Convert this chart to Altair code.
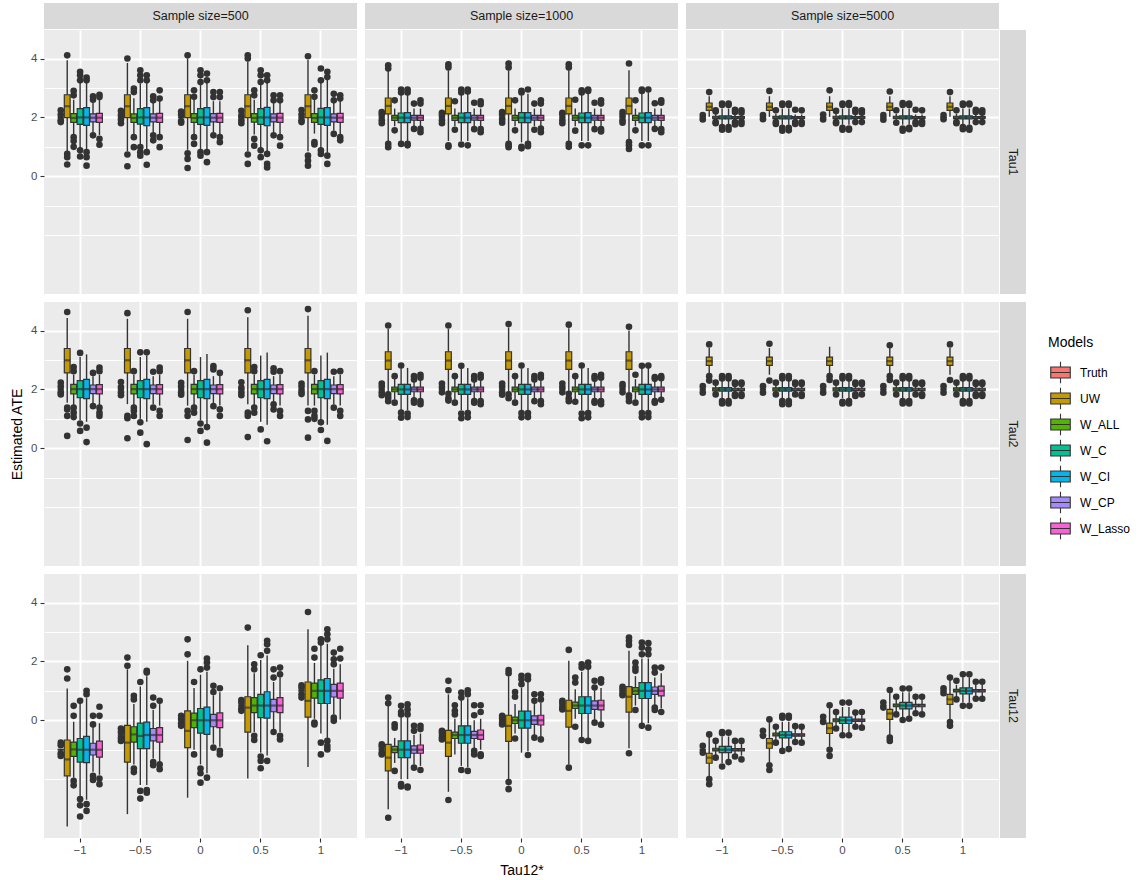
import altair as alt
import pandas as pd

FONT = "Liberation Sans"

MODELS = ["Truth", "UW", "W_ALL", "W_C", "W_CI", "W_CP", "W_Lasso"]
MODEL_COLORS = ["#F8766D", "#C49A00", "#53B400", "#00C094", "#00B6EB", "#A58AFF", "#FB61D7"]
TAU12_LEVELS = ["−1", "−0.5", "0", "0.5", "1"]
SAMPLE_SIZES = [500, 1000, 5000]
ESTIMANDS = ["Tau1", "Tau2", "Tau12"]

# Box statistics per model and Tau12* level: (lower whisker, Q1, median, Q3, upper whisker)
# Outliers per model and Tau12* level.

# ---- Tau1 ----
BOX_TAU1_N500 = {
    "Truth": [(2.0, 2.0, 2.0, 2.0, 2.0)] * 5,
    "UW": [(0.85, 1.99, 2.38, 2.77, 3.94), (0.85, 1.99, 2.38, 2.77, 3.85), (0.9, 1.99, 2.38, 2.77, 4.0),
           (0.85, 1.99, 2.38, 2.77, 3.9), (0.85, 1.99, 2.38, 2.77, 3.95)],
    "W_ALL": [(1.39, 1.83, 1.98, 2.13, 2.6), (1.4, 1.83, 1.98, 2.12, 2.65), (1.42, 1.83, 1.98, 2.13, 2.62),
              (1.42, 1.84, 1.98, 2.13, 2.6), (1.45, 1.83, 1.98, 2.13, 2.6)],
    "W_C": [(0.95, 1.76, 2.0, 2.3, 3.2), (1.05, 1.77, 2.0, 2.3, 3.15), (0.9, 1.76, 2.0, 2.3, 3.1),
            (0.95, 1.76, 2.0, 2.3, 3.1), (0.95, 1.76, 2.0, 2.31, 3.2)],
    "W_CI": [(0.9, 1.73, 2.0, 2.33, 3.2), (0.9, 1.72, 2.0, 2.33, 3.2), (0.9, 1.73, 2.0, 2.33, 3.2),
             (0.85, 1.72, 2.0, 2.34, 3.2), (0.8, 1.73, 2.0, 2.33, 3.3)],
    "W_CP": [(1.5, 1.85, 1.99, 2.12, 2.5), (1.5, 1.85, 1.99, 2.12, 2.5), (1.5, 1.85, 1.99, 2.13, 2.55),
             (1.5, 1.85, 1.99, 2.12, 2.5), (1.55, 1.85, 1.99, 2.12, 2.5)],
    "W_Lasso": [(1.4, 1.83, 1.99, 2.14, 2.6), (1.4, 1.83, 1.99, 2.14, 2.55), (1.4, 1.83, 1.99, 2.14, 2.55),
                (1.4, 1.83, 1.99, 2.14, 2.5), (1.4, 1.83, 1.99, 2.14, 2.55)],
}
OUT_TAU1_N500 = {
    "Truth": [[2.24, 2.1, 1.9, 1.84], [2.22, 2.08, 1.92, 1.8], [2.2, 2.1, 1.88, 1.82],
              [2.22, 2.06, 1.9, 1.8], [2.25, 2.1, 1.9, 1.84]],
    "UW": [[4.11, 0.76, 0.65, 0.40], [4.0, 0.74, 0.34], [4.11, 0.78, 0.59, 0.28],
           [4.11, 4.0, 0.74, 0.42], [4.08, 0.7, 0.53, 0.36]],
    "W_ALL": [[2.9, 2.75, 1.33, 1.2, 1.0], [2.98, 2.86, 1.33, 0.99], [2.92, 2.7, 1.33, 1.1],
              [2.92, 2.75, 1.27, 1.04], [2.92, 2.7, 1.16, 1.08]],
    "W_C": [[3.55, 3.43, 3.26, 0.88, 0.67], [3.6, 3.43, 3.26, 0.99, 0.82, 0.7], [3.6, 3.43, 3.2, 0.82, 0.7],
            [3.6, 3.43, 3.2, 0.88, 0.65], [3.66, 3.26, 0.88, 0.76]],
    "W_CI": [[3.35, 3.26, 0.82, 0.65, 0.36], [3.43, 3.26, 0.82, 0.39], [3.49, 3.26, 0.82, 0.48],
             [3.43, 3.26, 0.76, 0.42, 0.3], [3.55, 3.37, 0.7, 0.42]],
    "W_CP": [[2.72, 2.6, 1.39], [2.72, 2.58, 1.39, 1.22], [2.86, 2.69, 1.39],
             [2.75, 2.58, 1.39], [2.8, 2.58, 1.44]],
    "W_Lasso": [[2.77, 2.69, 1.27, 1.07], [2.92, 2.64, 1.33, 0.99], [2.86, 2.69, 1.33, 1.16],
                [2.75, 2.58, 1.33, 1.04], [2.75, 2.64, 1.33, 1.22]],
}

BOX_TAU1_N1000 = {
    "Truth": [(2.0, 2.0, 2.0, 2.0, 2.0)] * 5,
    "UW": [(1.2, 2.12, 2.39, 2.66, 3.6), (1.2, 2.12, 2.39, 2.66, 3.6), (1.2, 2.12, 2.39, 2.66, 3.6),
           (1.2, 2.12, 2.39, 2.66, 3.6), (1.22, 2.12, 2.39, 2.66, 3.6)],
    "W_ALL": [(1.7, 1.9, 1.99, 2.07, 2.3)] * 5,
    "W_C": [(1.2, 1.82, 1.99, 2.15, 2.8), (1.2, 1.82, 1.99, 2.15, 2.8), (1.15, 1.82, 1.99, 2.16, 2.75),
            (1.2, 1.82, 1.99, 2.15, 2.8), (1.2, 1.82, 1.99, 2.15, 2.8)],
    "W_CI": [(1.2, 1.82, 1.99, 2.16, 2.8), (1.2, 1.82, 1.99, 2.16, 2.8), (1.2, 1.82, 1.99, 2.16, 2.8),
             (1.2, 1.82, 1.99, 2.16, 2.8), (1.2, 1.82, 1.99, 2.16, 2.85)],
    "W_CP": [(1.7, 1.91, 1.99, 2.07, 2.3)] * 5,
    "W_Lasso": [(1.7, 1.9, 1.99, 2.07, 2.3)] * 5,
}
OUT_TAU1_N1000 = {
    "Truth": [[2.18, 2.1, 1.9, 1.8], [2.16, 2.08, 1.9, 1.8], [2.18, 2.1, 1.92, 1.82],
              [2.16, 2.1, 1.9, 1.8], [2.18, 2.08, 1.9, 1.82]],
    "UW": [[3.77, 3.66, 1.1, 0.99], [3.8, 3.7, 1.05, 1.0], [3.83, 3.7, 1.1, 1.05, 0.99],
           [3.8, 3.7, 1.1, 1.0], [3.83, 1.16, 1.05, 0.93]],
    "W_ALL": [[2.58, 1.56], [2.55, 1.58], [2.58, 1.56], [2.6, 1.55], [2.58, 1.56]],
    "W_C": [[2.95, 2.85, 1.1], [2.95, 2.85, 1.08], [2.9, 2.85, 1.0, 0.95], [2.92, 2.85, 1.05], [2.95, 2.9, 1.05]],
    "W_CI": [[2.95, 2.85, 1.1, 1.05], [2.95, 2.88, 1.05], [2.95, 1.1, 1.02], [2.95, 2.9, 1.05], [2.95, 1.05]],
    "W_CP": [[2.47, 1.61], [2.5, 1.6], [2.47, 1.58], [2.5, 1.6], [2.48, 1.61]],
    "W_Lasso": [[2.58, 2.47, 1.61, 1.5], [2.55, 2.45, 1.6, 1.5], [2.58, 2.47, 1.62, 1.5],
                [2.58, 2.47, 1.6, 1.52], [2.58, 2.5, 1.6, 1.5]],
}

BOX_TAU1_N5000 = {
    "Truth": [(2.0, 2.0, 2.0, 2.0, 2.0)] * 5,
    "UW": [(2.02, 2.24, 2.36, 2.49, 2.72)] * 5,
    "W_ALL": [(1.9, 1.96, 2.0, 2.04, 2.12)] * 5,
    "W_C": [(1.75, 1.95, 2.0, 2.05, 2.3)] * 5,
    "W_CI": [(1.75, 1.95, 2.0, 2.05, 2.3)] * 5,
    "W_CP": [(1.9, 1.97, 2.0, 2.03, 2.1)] * 5,
    "W_Lasso": [(1.9, 1.97, 2.0, 2.03, 2.1)] * 5,
}
OUT_TAU1_N5000 = {
    "Truth": [[2.08, 1.93], [2.08, 1.94], [2.1, 1.93], [2.08, 1.92], [2.08, 1.94]],
    "UW": [[2.86], [2.9], [2.92], [2.88], [2.86]],
    "W_ALL": [[2.24, 2.2, 1.84, 1.8], [2.24, 1.84, 1.78], [2.22, 1.84, 1.8], [2.24, 1.82], [2.24, 1.84, 1.8]],
    "W_C": [[2.47, 2.42, 1.67, 1.58], [2.47, 2.42, 1.65, 1.55], [2.47, 2.42, 1.65, 1.58],
            [2.49, 2.42, 1.62, 1.55], [2.47, 2.42, 1.67, 1.6]],
    "W_CI": [[2.47, 2.42, 1.67, 1.58], [2.47, 2.42, 1.65, 1.56], [2.49, 2.42, 1.62, 1.58],
             [2.47, 2.42, 1.65, 1.6], [2.47, 2.44, 1.65, 1.58]],
    "W_CP": [[2.26, 2.18, 1.84, 1.76], [2.26, 1.84, 1.78], [2.26, 2.18, 1.84], [2.26, 1.84, 1.78], [2.26, 2.18, 1.84]],
    "W_Lasso": [[2.24, 2.16, 1.86, 1.78], [2.24, 1.84, 1.78], [2.24, 2.16, 1.84], [2.24, 1.86, 1.78], [2.24, 2.16, 1.84]],
}

# ---- Tau2 ----
BOX_TAU2_N500 = {
    "Truth": [(2.0, 2.0, 2.0, 2.0, 2.0)] * 5,
    "UW": [(1.55, 2.56, 2.99, 3.39, 4.43), (1.5, 2.56, 2.99, 3.39, 4.4), (1.45, 2.56, 2.99, 3.39, 4.4),
           (1.5, 2.56, 2.99, 3.39, 4.45), (1.45, 2.56, 2.99, 3.39, 4.5)],
    "W_ALL": [(1.45, 1.85, 2.01, 2.17, 2.5)] * 5,
    "W_C": [(0.95, 1.72, 2.01, 2.3, 3.1), (1.0, 1.72, 2.01, 2.3, 3.1), (0.95, 1.72, 2.01, 2.3, 3.1),
            (0.9, 1.72, 2.01, 2.3, 3.15), (0.95, 1.72, 2.01, 2.3, 3.15)],
    "W_CI": [(0.9, 1.69, 2.01, 2.34, 3.19), (0.9, 1.69, 2.01, 2.34, 3.15), (0.8, 1.69, 2.01, 2.34, 3.2),
             (0.8, 1.69, 2.01, 2.34, 3.25), (0.8, 1.69, 2.01, 2.34, 3.25)],
    "W_CP": [(1.5, 1.86, 2.01, 2.15, 2.45)] * 5,
    "W_Lasso": [(1.45, 1.85, 2.01, 2.16, 2.5)] * 5,
}
OUT_TAU2_N500 = {
    "Truth": [[2.23, 2.1, 1.9, 1.83], [2.25, 2.08, 1.9, 1.8], [2.22, 2.1, 1.9, 1.82],
              [2.24, 2.06, 1.9, 1.8], [2.2, 2.1, 1.92, 1.84]],
    "UW": [[4.63, 1.38, 1.32, 1.1, 0.42], [4.59, 1.1, 1.02, 0.34], [4.63, 1.27, 1.1, 0.28],
           [4.69, 1.21, 1.1, 0.38], [4.73, 1.27, 0.98, 0.36]],
    "W_ALL": [[2.76, 2.62, 1.38, 1.21, 1.06], [2.62, 1.38, 1.27, 1.1], [2.62, 1.38, 1.21],
              [2.76, 2.62, 1.38, 1.21], [2.62, 1.27, 1.1, 1.0]],
    "W_C": [[3.24, 0.84, 0.59], [3.26, 0.88, 0.53], [0.84, 0.59], [0.64], [0.88, 0.62]],
    "W_CI": [[0.7, 0.21], [3.26, 0.14], [0.72, 0.19], [0.24], [0.25]],
    "W_CP": [[2.56, 1.43], [2.6, 1.38], [2.79, 2.68, 1.43], [2.72, 2.6, 1.49, 1.32], [2.6, 1.38]],
    "W_Lasso": [[2.74, 2.62, 1.38, 1.21, 1.1], [2.74, 2.62, 1.27, 1.1], [2.56, 1.32, 1.1],
                [2.62, 1.27, 1.1], [2.62, 1.27, 1.1]],
}

BOX_TAU2_N1000 = {
    "Truth": [(2.0, 2.0, 2.0, 2.0, 2.0)] * 5,
    "UW": [(1.9, 2.68, 2.98, 3.28, 4.05), (1.9, 2.68, 2.98, 3.28, 4.05), (1.9, 2.68, 2.98, 3.28, 4.1),
           (1.9, 2.68, 2.98, 3.28, 4.08), (1.9, 2.68, 2.98, 3.28, 4.0)],
    "W_ALL": [(1.65, 1.92, 2.0, 2.08, 2.35)] * 5,
    "W_C": [(1.3, 1.83, 2.0, 2.17, 2.7)] * 5,
    "W_CI": [(1.3, 1.83, 2.0, 2.17, 2.73)] * 5,
    "W_CP": [(1.7, 1.92, 2.0, 2.08, 2.3)] * 5,
    "W_Lasso": [(1.7, 1.92, 2.0, 2.08, 2.3)] * 5,
}
OUT_TAU2_N1000 = {
    "Truth": [[2.2, 2.1, 1.9, 1.8], [2.2, 2.08, 1.9], [2.2, 2.1, 1.9, 1.82], [2.2, 2.08, 1.9], [2.18, 2.1, 1.9]],
    "UW": [[4.17, 1.83, 1.72, 1.6], [4.17, 1.85, 1.7, 1.62], [4.22, 1.83, 1.7],
           [4.2, 1.85, 1.7, 1.6], [4.13, 1.8, 1.72, 1.6]],
    "W_ALL": [[2.45, 1.55], [2.45, 1.55], [2.45, 1.55], [2.45, 1.58], [2.5, 1.55]],
    "W_C": [[2.81, 1.21, 1.04], [2.8, 1.18, 1.02], [2.81, 1.2, 1.05], [2.81, 1.18, 1.02], [2.8, 1.2, 1.05]],
    "W_CI": [[1.18, 1.06], [1.2, 1.05], [1.2, 1.06], [1.2, 1.05], [2.81, 1.2, 1.06]],
    "W_CP": [[2.45, 2.34, 1.63, 1.55], [2.45, 2.34, 1.6, 1.55], [2.45, 2.34, 1.6],
             [2.45, 2.36, 1.6, 1.55], [2.42, 2.36, 1.6, 1.55]],
    "W_Lasso": [[2.5, 2.4, 1.6, 1.5], [2.5, 2.4, 1.6, 1.5], [2.5, 2.4, 1.6, 1.5],
                [2.5, 2.4, 1.6, 1.5], [2.45, 2.38, 1.65]],
}

BOX_TAU2_N5000 = {
    "Truth": [(2.0, 2.0, 2.0, 2.0, 2.0)] * 5,
    "UW": [(2.5, 2.82, 2.96, 3.1, 3.41), (2.5, 2.82, 2.96, 3.1, 3.41), (2.5, 2.82, 2.96, 3.1, 3.45),
           (2.5, 2.82, 2.96, 3.1, 3.41), (2.5, 2.82, 2.96, 3.1, 3.41)],
    "W_ALL": [(1.88, 1.95, 2.0, 2.05, 2.15)] * 5,
    "W_C": [(1.7, 1.94, 2.0, 2.06, 2.3)] * 5,
    "W_CI": [(1.7, 1.94, 2.0, 2.06, 2.3)] * 5,
    "W_CP": [(1.88, 1.96, 2.0, 2.04, 2.12)] * 5,
    "W_Lasso": [(1.88, 1.96, 2.0, 2.04, 2.12)] * 5,
}
OUT_TAU2_N5000 = {
    "Truth": [[2.11, 1.89], [2.11, 1.89], [2.11, 1.89], [2.11, 1.89], [2.11, 1.89]],
    "UW": [[3.53, 2.45, 2.3], [3.55, 2.3], [2.45, 2.32], [3.5, 2.45, 2.32], [3.53, 2.32]],
    "W_ALL": [[2.23, 1.83], [2.23, 1.83], [2.23, 1.83], [2.23, 1.83], [2.23, 1.83]],
    "W_C": [[2.45, 2.37, 1.6, 1.52], [2.45, 2.37, 1.6, 1.5], [2.45, 2.37, 1.58, 1.52],
            [2.45, 2.37, 1.6, 1.52], [2.45, 2.37, 1.6, 1.52]],
    "W_CI": [[2.45, 2.37, 1.6, 1.52], [2.45, 2.37, 1.6, 1.5], [2.45, 2.37, 1.6, 1.52],
             [2.45, 2.37, 1.6, 1.52], [2.45, 2.37, 1.6, 1.52]],
    "W_CP": [[2.23, 2.18, 1.83, 1.78], [2.23, 2.18, 1.83], [2.23, 2.18, 1.83, 1.78],
             [2.23, 2.18, 1.83], [2.23, 2.18, 1.83, 1.78]],
    "W_Lasso": [[2.23, 2.18, 1.83, 1.78], [2.23, 2.18, 1.83, 1.78], [2.23, 2.18, 1.83],
                [2.23, 2.18, 1.83, 1.78], [2.23, 2.18, 1.83, 1.78]],
}

# ---- Tau12 ----
BOX_TAU12_N500 = {
    "Truth": [(-1.0, -1.0, -1.0, -1.0, -1.0), (-0.5, -0.5, -0.5, -0.5, -0.5), (0.0, 0.0, 0.0, 0.0, 0.0),
              (0.5, 0.5, 0.5, 0.5, 0.5), (1.0, 1.0, 1.0, 1.0, 1.0)],
    "UW": [(-3.61, -1.89, -1.33, -0.67, 1.08), (-3.19, -1.42, -0.76, -0.17, 1.73), (-2.63, -0.93, -0.36, 0.32, 2.02),
           (-1.98, -0.4, 0.43, 0.8, 2.55), (-1.59, 0.11, 0.66, 1.3, 3.09)],
    "W_ALL": [(-1.95, -1.23, -0.99, -0.74, -0.05), (-1.5, -0.74, -0.48, -0.22, 0.55), (-1.0, -0.25, 0.0, 0.24, 1.1),
              (-0.4, 0.26, 0.5, 0.77, 1.6), (0.05, 0.75, 1.0, 1.26, 1.95)],
    "W_C": [(-2.57, -1.42, -1.0, -0.62, 0.55), (-2.2, -0.96, -0.53, -0.1, 1.15), (-1.5, -0.44, 0.0, 0.4, 1.55),
            (-1.1, 0.09, 0.5, 0.88, 2.05), (-0.45, 0.57, 1.0, 1.37, 2.6)],
    "W_CI": [(-2.7, -1.44, -1.0, -0.55, 0.75), (-2.2, -0.96, -0.5, -0.06, 1.5), (-1.8, -0.48, 0.0, 0.45, 1.65),
             (-1.2, 0.07, 0.5, 0.97, 2.2), (-0.6, 0.57, 1.0, 1.42, 2.6)],
    "W_CP": [(-1.75, -1.18, -1.0, -0.78, -0.2), (-1.3, -0.7, -0.5, -0.28, 0.35), (-0.8, -0.22, 0.0, 0.2, 0.85),
             (-0.3, 0.29, 0.5, 0.71, 1.3), (0.2, 0.79, 1.0, 1.22, 1.75)],
    "W_Lasso": [(-1.85, -1.25, -1.0, -0.71, -0.1), (-1.4, -0.74, -0.5, -0.25, 0.55), (-0.9, -0.25, 0.0, 0.25, 0.95),
                (-0.4, 0.26, 0.5, 0.77, 1.45), (0.03, 0.75, 1.0, 1.26, 1.9)],
}
OUT_TAU12_N500 = {
    "Truth": [[-0.76, -0.85, -1.12, -1.21], [-0.28, -0.4, -0.6, -0.7], [0.15, 0.05, -0.1, -0.19],
              [0.69, 0.6, 0.4, 0.32], [1.19, 1.1, 0.88, 0.77]],
    "UW": [[1.73, 1.42], [2.13, 1.85], [2.75, 2.24], [3.15], [3.68]],
    "W_ALL": [[0.49, 0.15, -2.06, -2.21], [0.83, 0.71, -1.64, -1.76], [1.3, -1.16],
              [1.9, 1.73, -0.53, -0.67], [2.43, 2.13, -0.08, -0.14]],
    "W_C": [[0.66, -2.68, -2.89, -3.27], [1.3, -2.4, -2.66], [1.73, -1.64, -1.8, -2.12],
            [2.21, -1.23, -1.38, -1.63], [2.75, 2.64, -0.76, -1.16]],
    "W_CI": [[1.0, 0.88, -2.85, -3.08], [1.68, 1.62, -2.37, -2.46], [2.1, 1.96, 1.79, -1.95],
             [2.7, 2.58, 2.36, -1.38], [3.09, 2.92, 2.75, -0.7, -0.87, -0.99]],
    "W_CP": [[0.15, -0.14, -1.89, -2.03], [0.77, 0.49, -1.42, -1.53], [1.17, 0.96, -0.93],
             [1.73, 1.45, -0.4], [2.3, 2.07, 1.9, 0.09, -0.02]],
    "W_Lasso": [[0.46, 0.15, -1.98, -2.17], [0.66, -1.5, -1.66], [1.09, -1.04, -1.16],
                [1.79, 1.56, -0.53, -0.65], [2.43, 2.1]],
}

BOX_TAU12_N1000 = {
    "Truth": [(-1.0, -1.0, -1.0, -1.0, -1.0), (-0.5, -0.5, -0.5, -0.5, -0.5), (0.0, 0.0, 0.0, 0.0, 0.0),
              (0.5, 0.5, 0.5, 0.5, 0.5), (1.0, 1.0, 1.0, 1.0, 1.0)],
    "UW": [(-3.02, -1.72, -1.27, -0.82, 0.5), (-2.43, -1.23, -0.76, -0.34, 0.88), (-2.0, -0.72, -0.19, 0.17, 1.5),
           (-1.49, -0.23, 0.32, 0.68, 2.02), (-0.95, 0.28, 0.8, 1.14, 2.36)],
    "W_ALL": [(-1.45, -1.1, -1.0, -0.89, -0.6), (-1.16, -0.62, -0.5, -0.4, 0.05), (-0.45, -0.11, 0.0, 0.11, 0.55),
              (0.05, 0.4, 0.5, 0.62, 1.05), (0.5, 0.88, 1.0, 1.11, 1.5)],
    "W_C": [(-2.0, -1.27, -1.0, -0.7, 0.1), (-1.55, -0.78, -0.5, -0.19, 0.7), (-1.1, -0.27, 0.0, 0.31, 1.1),
            (-0.6, 0.23, 0.5, 0.8, 1.65), (-0.1, 0.74, 1.0, 1.28, 2.1)],
    "W_CI": [(-2.0, -1.27, -1.0, -0.7, 0.1), (-1.6, -0.78, -0.5, -0.19, 0.75), (-1.05, -0.27, 0.0, 0.31, 1.3),
             (-0.6, 0.23, 0.5, 0.8, 1.75), (-0.1, 0.74, 1.0, 1.28, 2.1)],
    "W_CP": [(-1.5, -1.12, -1.0, -0.87, -0.5), (-0.95, -0.62, -0.5, -0.38, 0.0), (-0.5, -0.14, 0.0, 0.15, 0.55),
             (0.0, 0.37, 0.5, 0.66, 1.0), (0.5, 0.88, 1.0, 1.13, 1.45)],
    "W_Lasso": [(-1.55, -1.12, -1.0, -0.84, -0.45), (-1.0, -0.65, -0.5, -0.33, 0.05), (-0.55, -0.16, 0.0, 0.17, 0.6),
                (-0.05, 0.35, 0.5, 0.68, 1.1), (0.4, 0.83, 1.0, 1.16, 1.6)],
}
OUT_TAU12_N1000 = {
    "Truth": [[-0.82, -0.9, -1.1, -1.16], [-0.36, -0.42, -0.58, -0.65], [0.15, 0.08, -0.08, -0.14],
              [0.66, 0.58, 0.42, 0.37], [1.14, 1.06, 0.92, 0.85]],
    "UW": [[0.77, 0.58, -3.31], [1.34, 1.02, -2.71], [1.71, 1.6, -2.1, -2.34], [2.39, -1.61], [2.81, 2.7, 2.56, -1.12]],
    "W_ALL": [[-0.14, -0.25, -1.72], [0.51, 0.32, 0.2], [0.96, 0.8, -0.62], [1.45, 1.28, -0.22], [1.96, 1.79, 1.68, 0.35]],
    "W_C": [[0.49, 0.28, 0.2, -2.17, -2.25], [0.94, 0.77, -1.69], [1.51, 1.39, 1.22],
            [1.9, 1.79, -0.67], [2.64, 2.47, 2.24, -0.19]],
    "W_CI": [[0.54, 0.37, 0.2, -2.25, -2.28], [1.02, 0.88, -1.72], [1.51, 1.39, -1.18],
             [1.96, 1.82, -0.7], [2.62, 2.41, 2.24, -0.25]],
    "W_CP": [[-0.19, -0.36, -1.61], [0.51, 0.17, -1.04, -1.16], [0.88, 0.66, -0.59],
             [1.34, 1.11, -0.08], [1.79, 1.62, 0.43, 0.35]],
    "W_Lasso": [[-0.19, -0.3, -1.69], [0.51, 0.28, -1.16, -1.21], [0.88, 0.71, -0.65],
                [1.39, 1.28, -0.15], [1.79, 0.28]],
}

BOX_TAU12_N5000 = {
    "Truth": [(-1.0, -1.0, -1.0, -1.0, -1.0), (-0.5, -0.5, -0.5, -0.5, -0.5), (0.0, 0.0, 0.0, 0.0, 0.0),
              (0.5, 0.5, 0.5, 0.5, 0.5), (1.0, 1.0, 1.0, 1.0, 1.0)],
    "UW": [(-1.9, -1.46, -1.27, -1.12, -0.53), (-1.48, -0.95, -0.78, -0.62, -0.05), (-0.9, -0.45, -0.27, -0.1, 0.45),
           (-0.5, 0.03, 0.23, 0.37, 0.98), (0.02, 0.54, 0.71, 0.88, 1.4)],
    "W_ALL": [(-1.2, -1.04, -1.0, -0.95, -0.8), (-0.7, -0.53, -0.49, -0.44, -0.3), (-0.2, -0.05, 0.0, 0.05, 0.2),
              (0.3, 0.46, 0.5, 0.55, 0.7), (0.8, 0.96, 1.0, 1.05, 1.2)],
    "W_C": [(-1.45, -1.1, -1.0, -0.89, -0.55), (-0.95, -0.6, -0.5, -0.39, -0.05), (-0.45, -0.11, 0.0, 0.11, 0.45),
            (0.1, 0.39, 0.5, 0.61, 0.95), (0.6, 0.9, 1.0, 1.1, 1.45)],
    "W_CI": [(-1.35, -1.1, -1.0, -0.89, -0.55), (-0.95, -0.6, -0.5, -0.39, -0.05), (-0.45, -0.11, 0.0, 0.11, 0.45),
             (0.1, 0.39, 0.5, 0.61, 0.95), (0.6, 0.9, 1.0, 1.1, 1.45)],
    "W_CP": [(-1.2, -1.04, -1.0, -0.96, -0.8), (-0.7, -0.54, -0.5, -0.46, -0.3), (-0.2, -0.04, 0.0, 0.04, 0.2),
             (0.3, 0.46, 0.5, 0.54, 0.7), (0.8, 0.96, 1.0, 1.04, 1.2)],
    "W_Lasso": [(-1.2, -1.04, -1.0, -0.96, -0.8), (-0.7, -0.54, -0.5, -0.46, -0.3), (-0.2, -0.04, 0.0, 0.04, 0.2),
                (0.3, 0.46, 0.5, 0.54, 0.7), (0.8, 0.96, 1.0, 1.04, 1.2)],
}
OUT_TAU12_N5000 = {
    "Truth": [[-0.87, -1.1], [-0.36, -0.53], [0.12, -0.06], [0.6, 0.43], [1.09, 0.92]],
    "UW": [[-0.48, -2.0, -2.17], [0.03, -1.53, -1.69], [0.51, -1.0, -1.21], [1.03, -0.59, -0.7], [1.45, -0.06, -0.19]],
    "W_ALL": [[-0.7, -1.27], [-0.22, -0.76], [0.28, -0.28], [0.8, 0.2], [1.34, 0.71]],
    "W_C": [[-0.4, -0.44, -1.57], [0.15, 0.09, -1.04], [0.6, -0.51], [1.08, 0.01], [1.56, 0.49]],
    "W_CI": [[-0.42, -1.42], [0.15, 0.09, -0.98], [0.6, -0.51], [1.08, 0.05], [1.56, 0.49]],
    "W_CP": [[-0.7, -1.23], [-0.2, -0.74], [0.26, -0.22], [0.8, 0.24], [1.31, 0.73]],
    "W_Lasso": [[-0.7, -1.33], [-0.22, -0.76], [0.28, -0.25], [0.8, 0.2], [1.31, 0.73]],
}

PANELS = {
    ("Tau1", 500): (BOX_TAU1_N500, OUT_TAU1_N500),
    ("Tau1", 1000): (BOX_TAU1_N1000, OUT_TAU1_N1000),
    ("Tau1", 5000): (BOX_TAU1_N5000, OUT_TAU1_N5000),
    ("Tau2", 500): (BOX_TAU2_N500, OUT_TAU2_N500),
    ("Tau2", 1000): (BOX_TAU2_N1000, OUT_TAU2_N1000),
    ("Tau2", 5000): (BOX_TAU2_N5000, OUT_TAU2_N5000),
    ("Tau12", 500): (BOX_TAU12_N500, OUT_TAU12_N500),
    ("Tau12", 1000): (BOX_TAU12_N1000, OUT_TAU12_N1000),
    ("Tau12", 5000): (BOX_TAU12_N5000, OUT_TAU12_N5000),
}

box_rows, out_rows = [], []
for (est, n), (box, out) in PANELS.items():
    for m in MODELS:
        for lvl, stats, pts in zip(TAU12_LEVELS, box[m], out[m]):
            lo, q1, med, q3, hi = stats
            box_rows.append({"est": est, "n": n, "model": m, "tau": lvl,
                             "lo": lo, "q1": q1, "med": med, "q3": q3, "hi": hi})
            for v in pts:
                out_rows.append({"est": est, "n": n, "model": m, "tau": lvl, "value": v})
box_df = pd.DataFrame(box_rows)
out_df = pd.DataFrame(out_rows)

PANEL_W, PANEL_H = 313, 264
GAP = 8
STRIP = 26          # strip thickness
STRIP_VIEW = STRIP - GAP + 1   # strips sit 1px from their panels
DARK = "#333333"

X_SCALE = alt.Scale(domain=TAU12_LEVELS, paddingInner=0.25, paddingOuter=0.225)
XO_SCALE = alt.Scale(domain=MODELS, paddingInner=0.1, paddingOuter=0.05)
Y_SCALE = alt.Scale(domain=[-4.0, 4.97], nice=False, zero=False)
FILL_SCALE = alt.Scale(domain=MODELS, range=MODEL_COLORS)

MAJOR = "datum.value >= 0 && datum.value % 2 == 0"

# boxplot-shaped legend key: box, median line and whiskers
LEGEND_SYMBOL = "M-0.84,-0.47H0.84V0.47H-0.84Z M-0.84,0H0.84 M0,-0.47V-0.93 M0,0.47V0.93"


def x_axis(show, title):
    kw = dict(title=title, domain=False, grid=True, gridColor="white", gridWidth=1.9,
              bandPosition=0.5, labelAngle=0)
    if show:
        kw.update(labels=True, ticks=True, tickColor=DARK, tickSize=4, tickWidth=1.1,
                  labelColor="#4D4D4D", labelFontSize=11.5, labelPadding=2,
                  titleFontSize=14, titleFontWeight="normal", titleColor="black", titlePadding=8)
    else:
        kw.update(labels=False, ticks=False)
    return alt.Axis(**kw)


def y_axis(show, title):
    kw = dict(title=title, values=[-2, -1, 0, 1, 2, 3, 4], domain=False, grid=True, gridColor="white",
              gridWidth={"condition": {"test": MAJOR, "value": 1.9}, "value": 0.95})
    if show:
        kw.update(labels=True, ticks=True, labelExpr=f"{MAJOR} ? datum.label : ''",
                  tickOpacity={"condition": {"test": MAJOR, "value": 1}, "value": 0},
                  tickColor=DARK, tickSize=4, tickWidth=1.1, labelColor="#4D4D4D",
                  labelFontSize=11.5, labelPadding=3,
                  titleFontSize=14, titleFontWeight="normal", titleColor="black", titlePadding=6)
    else:
        kw.update(labels=False, ticks=False)
    return alt.Axis(**kw)


def panel(est, n, r, c):
    b = box_df[(box_df["est"] == est) & (box_df["n"] == n)]
    o = out_df[(out_df["est"] == est) & (out_df["n"] == n)]
    x = alt.X("tau:N", scale=X_SCALE, axis=x_axis(r == 2, "Tau12*" if (r == 2 and c == 1) else None))
    xo = alt.XOffset("model:N", scale=XO_SCALE)
    ya = y_axis(c == 0, "Estimated ATE" if (c == 0 and r == 1) else None)

    legend = alt.Legend(
        title="Models", orient="none", legendX=1004, legendY=333,
        symbolType=LEGEND_SYMBOL, symbolSize=540, symbolStrokeColor=DARK, symbolStrokeWidth=1.1,
        symbolOpacity=1, rowPadding=-3, labelOffset=7, titlePadding=10,
        titleFontSize=14, titleFontWeight="normal", titleColor="black",
        labelFontSize=12, labelColor="black",
    ) if (r == 0 and c == 0) else None

    outliers = alt.Chart(o).mark_circle(size=44, color=DARK, opacity=1).encode(
        x=x, xOffset=xo, y=alt.Y("value:Q", scale=Y_SCALE, axis=ya))
    whiskers = alt.Chart(b).mark_rule(color=DARK, strokeWidth=1.4).encode(
        x=x, xOffset=xo, y=alt.Y("lo:Q", scale=Y_SCALE, axis=ya), y2="hi:Q")
    boxes = alt.Chart(b).mark_bar(stroke=DARK, strokeWidth=1.2).encode(
        x=x, xOffset=xo, y=alt.Y("q1:Q", scale=Y_SCALE, axis=ya), y2="q3:Q",
        fill=alt.Fill("model:N", scale=FILL_SCALE, legend=legend))
    medians = alt.Chart(b).mark_tick(color=DARK, thickness=2.2, size=6.5).encode(
        x=x, xOffset=xo, y=alt.Y("med:Q", scale=Y_SCALE, axis=ya))
    return alt.layer(outliers, whiskers, boxes, medians).properties(
        width=PANEL_W, height=PANEL_H,
        view=alt.ViewBackground(fill="#EBEBEB", strokeOpacity=0))


def col_strip(label):
    d = pd.DataFrame({"label": [label]})
    bg = alt.Chart(d).mark_rect(color="#D9D9D9").encode(
        x=alt.value(0), x2=alt.value(PANEL_W), y=alt.value(0), y2=alt.value(STRIP))
    txt = alt.Chart(d).mark_text(font=FONT, fontSize=12.5, color="#1A1A1A").encode(
        text="label:N", x=alt.value(PANEL_W / 2), y=alt.value(STRIP / 2))
    return alt.layer(bg, txt).properties(
        width=PANEL_W, height=STRIP_VIEW, view=alt.ViewBackground(strokeOpacity=0))


def row_strip(label):
    d = pd.DataFrame({"label": [label]})
    bg = alt.Chart(d).mark_rect(color="#D9D9D9").encode(
        x=alt.value(STRIP_VIEW - STRIP), x2=alt.value(STRIP_VIEW), y=alt.value(0), y2=alt.value(PANEL_H))
    txt = alt.Chart(d).mark_text(font=FONT, fontSize=12.5, color="#1A1A1A", angle=90).encode(
        text="label:N", x=alt.value(STRIP_VIEW - STRIP / 2), y=alt.value(PANEL_H / 2))
    return alt.layer(bg, txt).properties(
        width=STRIP_VIEW, height=PANEL_H, view=alt.ViewBackground(strokeOpacity=0))


def blank():
    d = pd.DataFrame({"label": [""]})
    return alt.Chart(d).mark_text().encode(text="label:N").properties(
        width=STRIP_VIEW, height=STRIP_VIEW, view=alt.ViewBackground(strokeOpacity=0))


cells = [col_strip(f"Sample size={n}") for n in SAMPLE_SIZES] + [blank()]
for r, est in enumerate(ESTIMANDS):
    cells += [panel(est, n, r, c) for c, n in enumerate(SAMPLE_SIZES)]
    cells.append(row_strip(est))

chart = alt.concat(*cells, columns=4, spacing=GAP, bounds="flush", align="each").resolve_scale(
    fill="shared"
).properties(
    padding={"left": 10, "top": 3, "right": 5, "bottom": 5}
).configure(
    font=FONT, background="white"
).configure_view(strokeWidth=0)

chart.save("out.html", embed_options={"renderer": "svg", "actions": False})
